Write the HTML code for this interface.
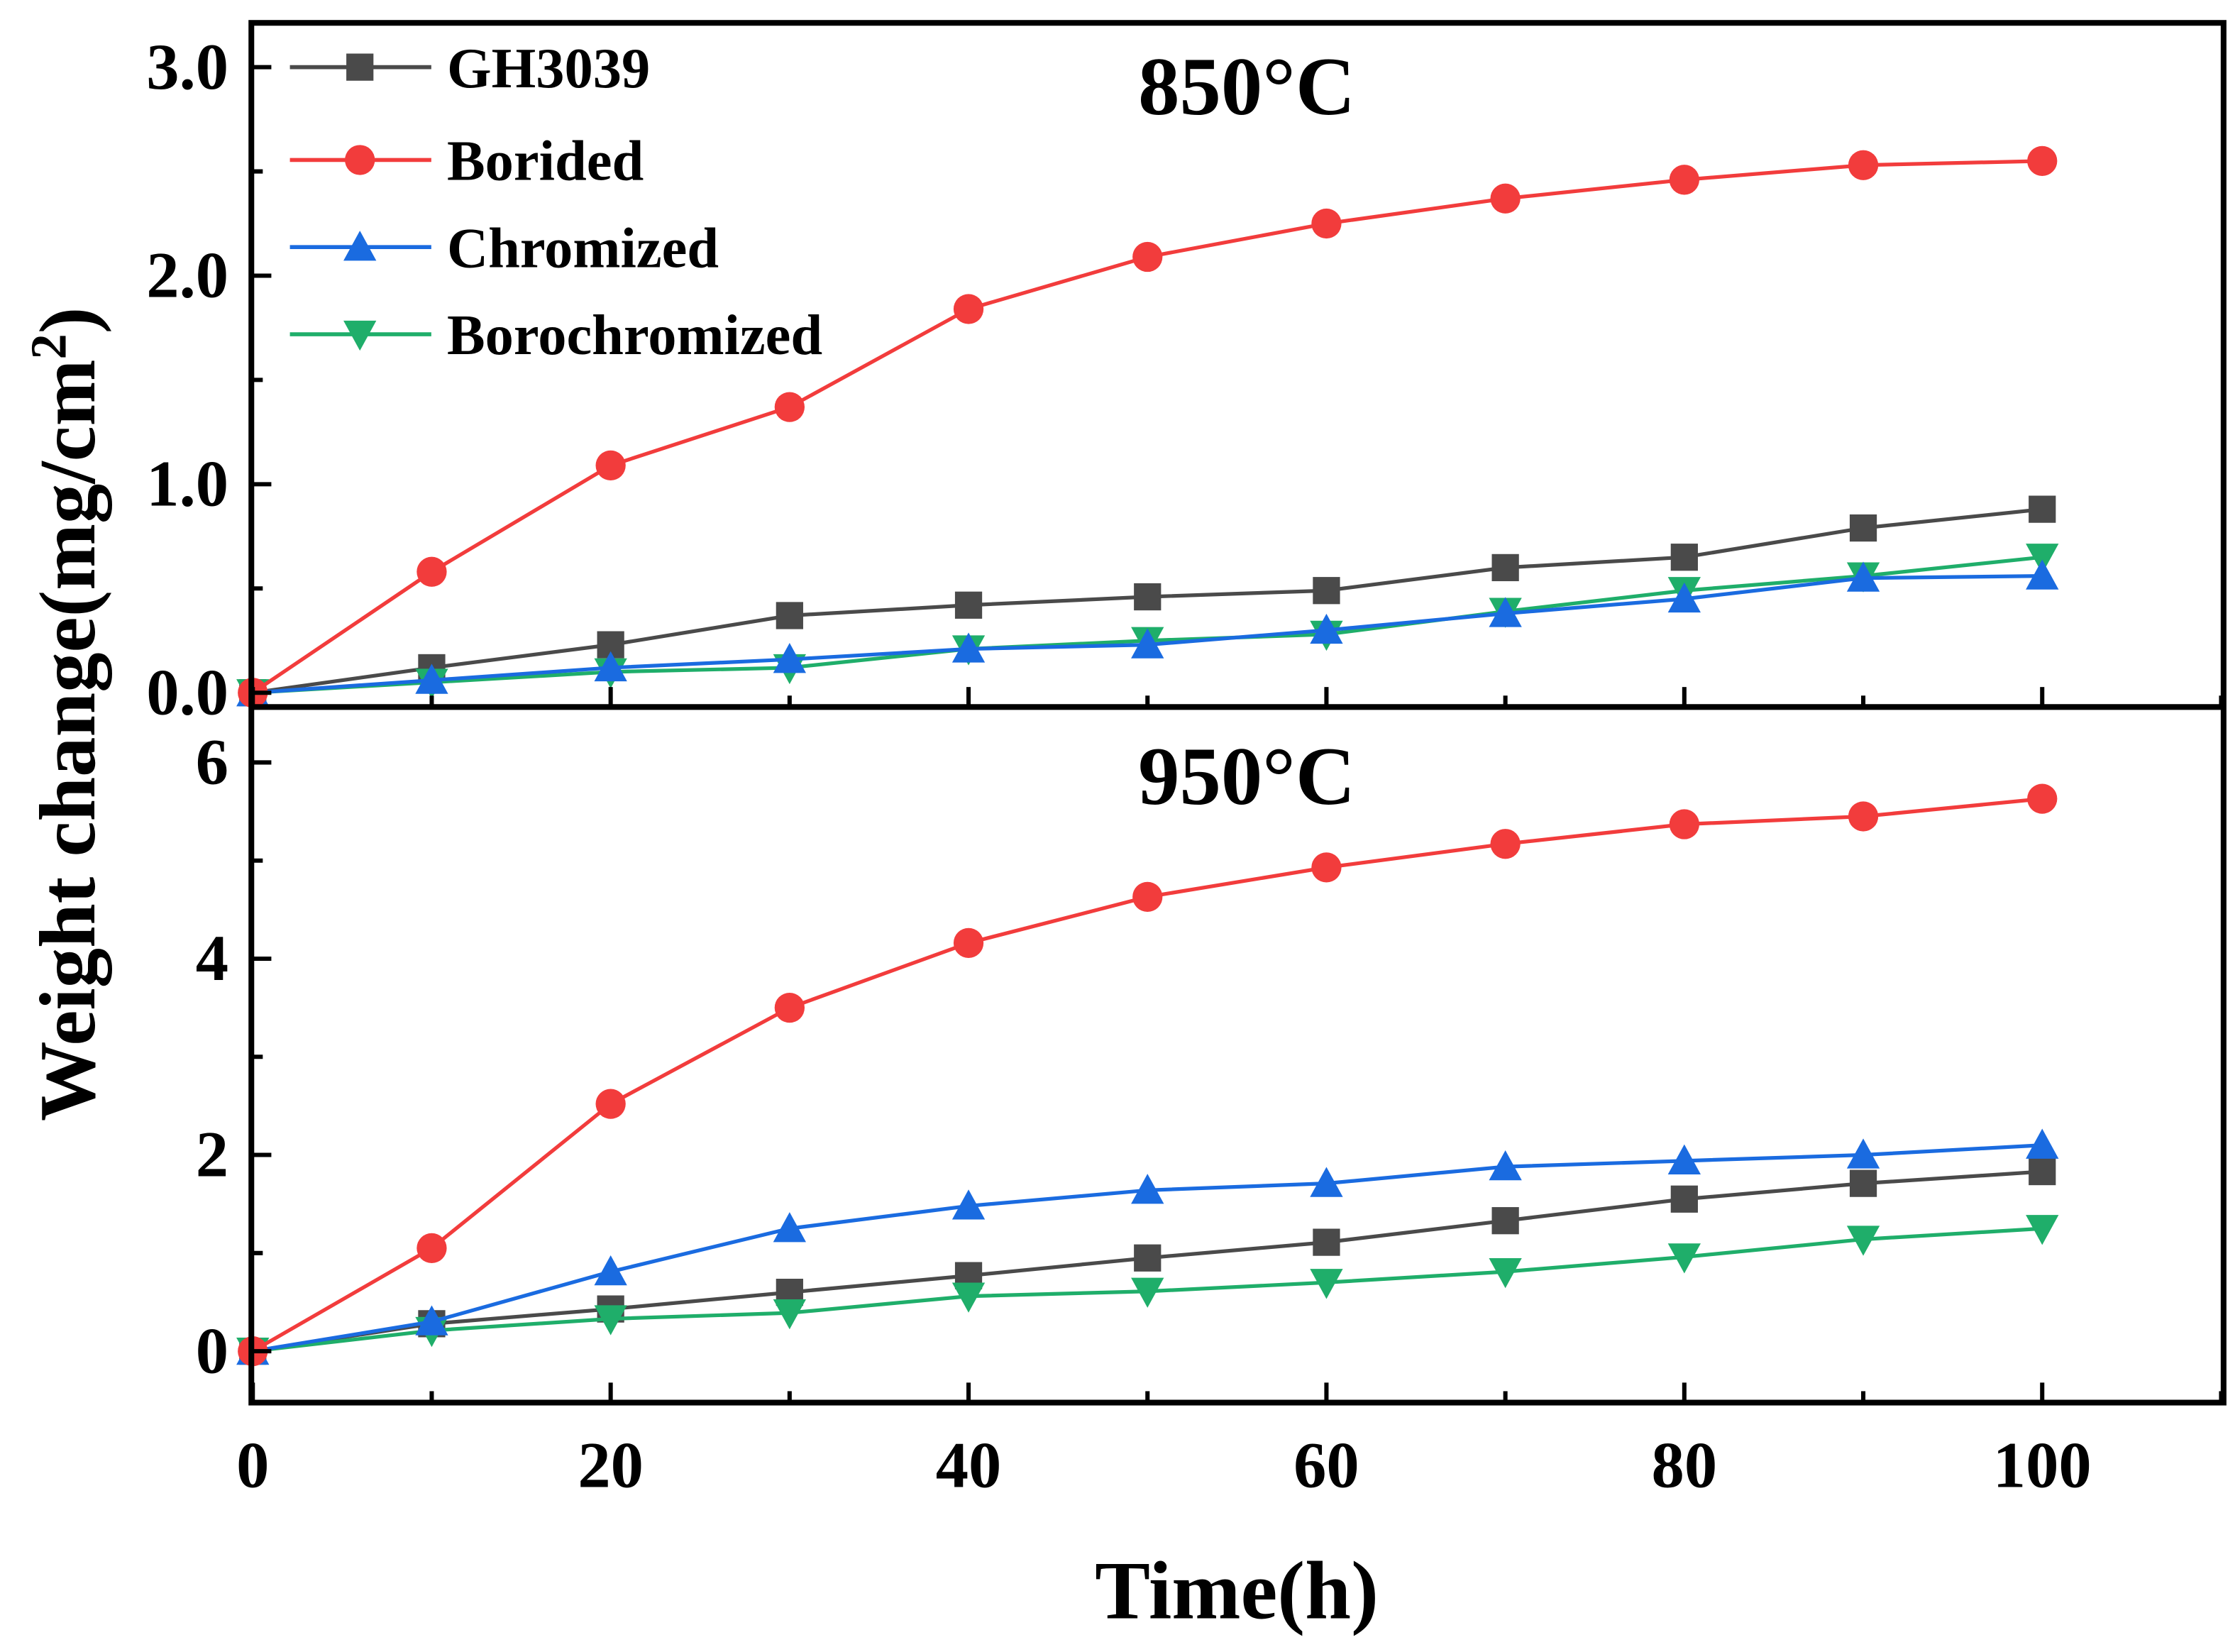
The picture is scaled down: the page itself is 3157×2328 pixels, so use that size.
<!DOCTYPE html>
<html><head><meta charset="utf-8"><style>
html,body{margin:0;padding:0;background:#fff}
svg{display:block}
text{font-family:"Liberation Serif",serif;font-weight:bold}
</style></head><body>
<svg id="chart" width="3157" height="2328" viewBox="0 0 1568.5 1156.6" xmlns="http://www.w3.org/2000/svg">
<g id="g"></g>
</svg>
<script>
const times=[0,10,20,30,40,50,60,70,80,90,100];
const top_gh3039=[0,0.12,0.23,0.37,0.42,0.46,0.49,0.60,0.65,0.79,0.88];
const top_borided=[0,0.58,1.09,1.37,1.84,2.09,2.25,2.37,2.46,2.53,2.55];
const top_chromized=[0,0.06,0.12,0.16,0.21,0.23,0.30,0.38,0.45,0.55,0.56];
const top_borochromized=[0,0.05,0.10,0.12,0.21,0.25,0.28,0.39,0.49,0.56,0.65];
const bot_gh3039=[0,0.28,0.43,0.60,0.77,0.95,1.11,1.33,1.55,1.71,1.83];
const bot_borided=[0,1.05,2.52,3.50,4.16,4.63,4.93,5.17,5.37,5.45,5.63];
const bot_chromized=[0,0.30,0.81,1.25,1.48,1.64,1.71,1.88,1.94,2.00,2.10];
const bot_borochromized=[0,0.21,0.33,0.39,0.56,0.61,0.70,0.81,0.96,1.14,1.25];
const xTicks=[0,20,40,60,80,100];
const topTicks=[0,1,2,3];
const topTickLabels=["0.0","1.0","2.0","3.0"];
const botTicks=[0,2,4,6];
const botTickLabels=["0","2","4","6"];
const seriesNames=["GH3039","Borided","Chromized","Borochromized"];
const colors=["#4a4a4a","#f23c3c","#1a6be0","#1fae6a"];

const NS="http://www.w3.org/2000/svg";
const g=document.getElementById('g');
function el(t,a,p){const e=document.createElementNS(NS,t);for(const k in a)e.setAttribute(k,a[k]);(p||g).appendChild(e);return e;}
const L=176,R=1557,T=16,M=495,B=982;
const xs=v=>177+v*12.53;
const ysTop=v=>485-v*146;
const ysBot=v=>946-v*68.7;

function marker(i,x,y,name){
  let m;const c=colors[i],r=9.5;
  if(i==0)m=el('rect',{x:x-r,y:y-r,width:2*r,height:2*r,fill:c});
  else if(i==1)m=el('circle',{cx:x,cy:y,r:r+1,fill:c});
  else if(i==2)m=el('polygon',{points:`${x},${y-r-2} ${x+r+2},${y+r} ${x-r-2},${y+r}`,fill:c});
  else m=el('polygon',{points:`${x},${y+r+2} ${x+r+2},${y-r} ${x-r-2},${y-r}`,fill:c});
  
  
}
function series(arr,i,ys,panel){
  const p=el('polyline',{points:arr.map((v,k)=>xs(times[k])+','+ys(v)).join(' '),fill:'none',stroke:colors[i],'stroke-width':2.6});
  
  
  arr.forEach((v,k)=>marker(i,xs(times[k]),ys(v),panel+'-'+seriesNames[i].toLowerCase()+'-point'));
}
const topData=[top_gh3039,top_borided,top_chromized,top_borochromized];
const botData=[bot_gh3039,bot_borided,bot_chromized,bot_borochromized];
[0,3,2,1].forEach(i=>series(topData[i],i,ysTop,'top'));
[0,3,2,1].forEach(i=>series(botData[i],i,ysBot,'bottom'));

let f=el('rect',{x:L,y:T,width:R-L,height:B-T,fill:'none',stroke:'#000','stroke-width':4});

let d=el('line',{x1:L,x2:R,y1:M,y2:M,stroke:'#000','stroke-width':4});


for(let v=0;v<=110;v+=10){
  const major=v%20==0;const len=major?14:8;
  el('line',{x1:xs(v),x2:xs(v),y1:B,y2:B-len,stroke:'#000','stroke-width':3});
  el('line',{x1:xs(v),x2:xs(v),y1:M,y2:M-len,stroke:'#000','stroke-width':3});
}
xTicks.forEach(v=>{const t=el('text',{x:xs(v),y:1041,'font-size':46,'text-anchor':'middle'});t.textContent=v;
});
for(let v=0;v<=3.01;v+=0.5){const len=(Math.abs(v-Math.round(v))<0.01)?14:8;
  el('line',{x1:L,x2:L+len,y1:ysTop(v),y2:ysTop(v),stroke:'#000','stroke-width':3});}
topTicks.forEach((v,k)=>{const t=el('text',{x:160,y:ysTop(v)+15,'font-size':46,'text-anchor':'end'});t.textContent=topTickLabels[k];
});
for(let v=0;v<=6;v+=1){const len=v%2==0?14:8;
  el('line',{x1:L,x2:L+len,y1:ysBot(v),y2:ysBot(v),stroke:'#000','stroke-width':3});}
botTicks.forEach((v,k)=>{const t=el('text',{x:160,y:ysBot(v)+15,'font-size':46,'text-anchor':'end'});t.textContent=botTickLabels[k];
});

let t1=el('text',{x:873,y:80,'font-size':58,'text-anchor':'middle'});t1.textContent='850°C';

let t2=el('text',{x:873,y:563,'font-size':58,'text-anchor':'middle'});t2.textContent='950°C';

let xt=el('text',{x:866,y:1133,'font-size':58,'text-anchor':'middle'});xt.textContent='Time(h)';

let yt=el('text',{x:0,y:0,'font-size':56,'text-anchor':'middle',transform:'translate(66,500) rotate(-90)'});
yt.innerHTML='Weight change(mg/cm<tspan dy="-20" font-size="36">2</tspan><tspan dy="20">)</tspan>';


const ly=[47,112,173,234];
seriesNames.forEach((n,i)=>{
  const ln=el('line',{x1:203,x2:302,y1:ly[i],y2:ly[i],stroke:colors[i],'stroke-width':2.8});
  
  marker(i,252,ly[i],'legend-marker');
  const t=el('text',{x:313,y:ly[i]+14,'font-size':40});t.textContent=n;
  
});
</script>
</body></html>
